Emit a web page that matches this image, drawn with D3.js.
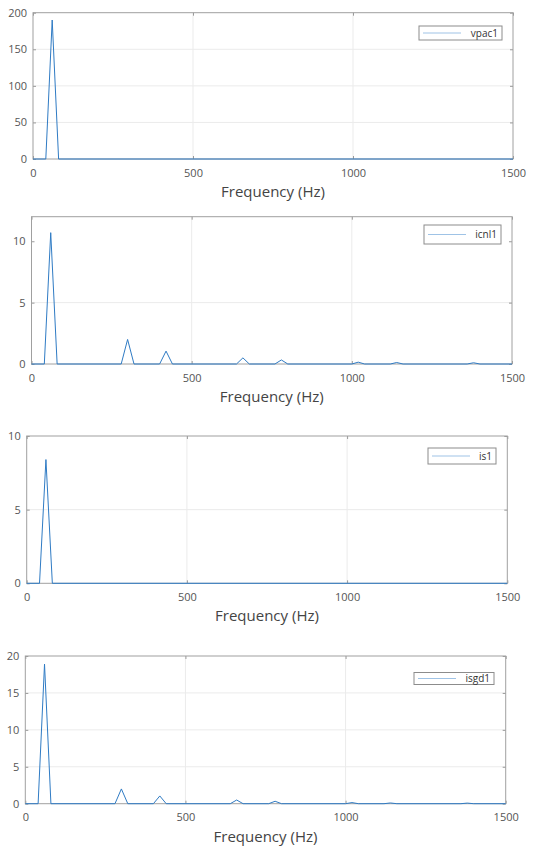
<!DOCTYPE html>
<html>
<head>
<meta charset="utf-8">
<script src="https://cdn.jsdelivr.net/npm/d3@7"></script>
<style>
  body { margin: 0; background: #fff; }
  svg text { font-family: "Open Sans", sans-serif; }
</style>
</head>
<body>
<div id="chart"></div>
<script>
// spectrum sample points (Hz, magnitude)
const vpacFreq = [0, 40, 60, 80, 1500];
const vpacMag  = [0, 0, 190, 0, 0];

const icnlFreq = [0, 40, 60, 80, 280, 300, 320, 400, 420, 440, 640, 660, 680, 760, 780, 800,
                  1000, 1020, 1040, 1120, 1140, 1160, 1360, 1380, 1400, 1500];
const icnlMag  = [0, 0, 10.7, 0, 0, 2.0, 0, 0, 1.05, 0, 0, 0.5, 0, 0, 0.33, 0,
                  0, 0.15, 0, 0, 0.12, 0, 0, 0.1, 0, 0];

const isFreq = [0, 40, 60, 80, 1500];
const isMag  = [0, 0, 8.4, 0, 0];

const isgdFreq = [0, 40, 60, 80, 280, 300, 320, 400, 420, 440, 640, 660, 680, 760, 780, 800,
                  1000, 1020, 1040, 1120, 1140, 1160, 1360, 1380, 1400, 1500];
const isgdMag  = [0, 0, 18.9, 0, 0, 2.0, 0, 0, 1.05, 0, 0, 0.5, 0, 0, 0.33, 0,
                  0, 0.15, 0, 0, 0.1, 0, 0, 0.08, 0, 0];

const xTicks = [0, 500, 1000, 1500];
const names = ["vpac1", "icnl1", "is1", "isgd1"];
const yMaxes = [200, 12, 10, 20];
const yTickSets = [[0, 50, 100, 150, 200], [0, 5, 10], [0, 5, 10], [0, 5, 10, 15, 20]];
const xLabel = "Frequency (Hz)";

const series = [
  d3.zip(vpacFreq, vpacMag),
  d3.zip(icnlFreq, icnlMag),
  d3.zip(isFreq, isMag),
  d3.zip(isgdFreq, isgdMag)
];

// pixel boxes of each subplot
const boxes = [
  { left: 33, right: 513, top: 12.7, bottom: 159, leg: [419, 26, 83, 14] },
  { left: 31.5, right: 512, top: 216.7, bottom: 364, leg: [424, 225, 77, 19] },
  { left: 26.7, right: 507.3, top: 436, bottom: 583.3, leg: [428, 448, 68, 16] },
  { left: 25.3, right: 505.7, top: 656, bottom: 803.7, leg: [414, 672.5, 80, 12] }
];

const svg = d3.select("#chart").append("svg")
  .attr("width", 542)
  .attr("height", 846);

const lineColor = "#2f7bc4";

boxes.forEach(function (b, i) {
  var x = d3.scaleLinear().domain([0, 1500]).range([b.left, b.right]);
  var y = d3.scaleLinear().domain([0, yMaxes[i]]).range([b.bottom, b.top]);
  var g = svg.append("g");

  // grid
  g.selectAll(".gx").data(xTicks.slice(1, -1)).enter().append("line")
    .attr("x1", d => x(d)).attr("x2", d => x(d))
    .attr("y1", b.top).attr("y2", b.bottom)
    .style("stroke", "#ebebeb");
  g.selectAll(".gy").data(yTickSets[i].slice(1, -1)).enter().append("line")
    .attr("y1", d => y(d)).attr("y2", d => y(d))
    .attr("x1", b.left).attr("x2", b.right)
    .style("stroke", "#ebebeb");

  // ticks (inside, both sides)
  var xAxis = d3.axisBottom(x).tickValues(xTicks).tickFormat(d3.format("d"))
    .tickSizeInner(-3).tickSizeOuter(0).tickPadding(10);
  var yAxis = d3.axisLeft(y).tickValues(yTickSets[i]).tickFormat(d3.format("d"))
    .tickSizeInner(-3).tickSizeOuter(0).tickPadding(6);

  g.append("g").attr("transform", "translate(0," + b.bottom + ")").call(xAxis);
  g.append("g").attr("transform", "translate(" + b.left + ",0)").call(yAxis);
  g.append("g").attr("transform", "translate(0," + b.top + ")")
    .call(d3.axisTop(x).tickValues(xTicks).tickSizeInner(-3).tickSizeOuter(0).tickFormat(""));
  g.append("g").attr("transform", "translate(" + b.right + ",0)")
    .call(d3.axisRight(y).tickValues(yTickSets[i]).tickSizeInner(-3).tickSizeOuter(0).tickFormat(""));

  g.selectAll(".domain").remove();
  g.selectAll(".tick line").style("stroke", "#9a9a9a");
  g.selectAll(".tick text").style("fill", "#555").style("font-size", "11px");

  // box
  g.append("rect")
    .attr("x", b.left).attr("y", b.top)
    .attr("width", b.right - b.left).attr("height", b.bottom - b.top)
    .style("fill", "none").style("stroke", "#a0a0a0").style("stroke-width", 1);

  // spectrum line
  g.append("path")
    .datum(series[i])
    .attr("d", d3.line().x(d => x(d[0])).y(d => y(d[1])))
    .style("fill", "none")
    .style("stroke", lineColor)
    .style("stroke-width", 1);

  // x label
  g.append("text")
    .attr("x", (b.left + b.right) / 2)
    .attr("y", b.bottom + 38)
    .attr("text-anchor", "middle")
    .style("font-size", "15px")
    .style("fill", "#444")
    .text(xLabel);

  // legend
  var L = b.leg;
  g.append("rect")
    .attr("x", L[0]).attr("y", L[1]).attr("width", L[2]).attr("height", L[3])
    .style("fill", "#fff").style("stroke", "#8c8c8c").style("stroke-width", 1);
  g.append("line")
    .attr("x1", L[0] + 4).attr("x2", L[0] + 42)
    .attr("y1", L[1] + L[3] / 2).attr("y2", L[1] + L[3] / 2)
    .style("stroke", "#9fc3e6").style("stroke-width", 1);
  g.append("text")
    .attr("x", L[0] + L[2] - 4)
    .attr("y", L[1] + L[3] / 2 + 3.5)
    .attr("text-anchor", "end")
    .style("font-size", "10px")
    .style("fill", "#333")
    .text(names[i]);
});
</script>
</body>
</html>
